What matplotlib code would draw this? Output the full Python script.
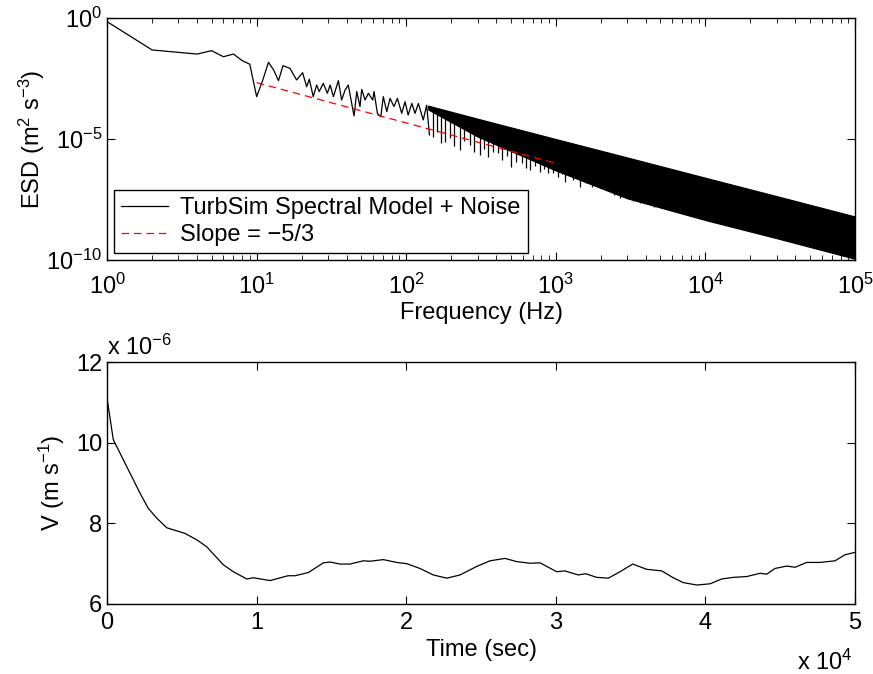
import matplotlib
matplotlib.use('Agg')
import matplotlib.pyplot as plt
from matplotlib.ticker import NullLocator, LogLocator

plt.rcParams['font.family'] = ['Liberation Sans', 'DejaVu Sans']
plt.rcParams['mathtext.fontset'] = 'custom'
plt.rcParams['mathtext.rm'] = 'Liberation Sans'
plt.rcParams['mathtext.it'] = 'Liberation Sans:italic'
plt.rcParams['font.size'] = 17

# spectrum, low-frequency part (Hz, log10 ESD)
low_freq = [1, 2, 3, 4, 5, 6, 7, 8, 9, 10, 11, 12, 13, 14, 15,
            16.7, 18.5, 20.3, 21.6, 22.5, 23.9, 25.2, 26.2, 27.9, 29.7,
            31, 32.6, 35.2, 37, 39, 41, 43.2, 44.8, 46.7, 49.1,
            50.4, 53.1, 55.8, 59.7, 60.9, 64.2, 67.6, 70.3, 74.1, 78,
            82.8, 87.3, 93.3, 98.2, 103, 109, 114.5, 120.5, 130, 137, 143]
low_log = [-0.15, -1.32, -1.42, -1.49, -1.35, -1.60, -1.49, -1.76, -1.91, -3.25,
           -2.56, -1.83, -2.15, -2.59, -1.97,
           -2.08, -2.56, -2.26, -2.84, -2.53, -3.25, -2.77, -3.04, -2.70, -3.11,
           -2.77, -3.25, -2.59, -3.39, -2.98, -2.77, -3.53, -4.05, -3.04, -3.66,
           -2.95, -3.39, -3.11, -3.39, -3.04, -3.94, -4.08, -3.25, -3.87, -3.32,
           -3.66, -3.32, -3.94, -3.46, -4.01, -3.53, -3.94, -3.53, -4.21, -3.60, -4.83]

# dense high-frequency band: upper and lower edges (log10 ESD)
band_freq = [140, 300, 1000, 3000, 10000, 30000, 100000]
band_top = [-3.62, -4.16, -5.00, -5.76, -6.60, -7.36, -8.20]
band_bot = [-3.78, -4.90, -6.30, -7.45, -8.35, -9.10, -9.95]

# downward spikes below the band
spike_freq = [150, 160, 170, 182, 195, 210, 229, 245, 267, 285, 311, 330,
              354, 380, 413, 440, 470, 499, 540, 592, 630, 673, 730, 783,
              840, 891, 960, 1040, 1100, 1153, 1300, 1452, 1600, 1750, 1972,
              2200, 2450, 2685, 3000, 3300, 3656, 4000, 4500, 4977, 5700,
              6592, 7500]
spike_top = [-3.88, -3.93, -3.97, -4.02, -4.06, -4.12, -4.18, -4.22, -4.28,
             -4.33, -4.39, -4.43, -4.48, -4.53, -4.59, -4.63, -4.68, -4.72,
             -4.77, -4.84, -4.88, -4.92, -4.98, -5.03, -5.08, -5.12, -5.17,
             -5.23, -5.27, -5.30, -5.38, -5.46, -5.53, -5.59, -5.67, -5.75,
             -5.82, -5.89, -5.96, -6.03, -6.10, -6.16, -6.25, -6.32, -6.41,
             -6.51, -6.60]
spike_tip = [-4.90, -4.70, -5.18, -5.11, -4.95, -5.30, -5.45, -5.10, -5.25,
             -5.55, -5.66, -5.40, -5.76, -5.55, -5.56, -5.85, -5.70, -6.17,
             -5.95, -6.01, -6.20, -6.28, -6.10, -6.35, -6.25, -6.42, -6.40,
             -6.56, -6.45, -6.76, -6.70, -6.97, -6.80, -7.00, -7.04, -7.10,
             -7.30, -7.45, -7.35, -7.55, -7.66, -7.60, -7.80, -7.80, -7.95,
             -8.00, -8.10]

# -5/3 reference line
slope_freq = [10, 1000]
slope_log = [-2.67, -6.00]

# wind speed time series (time in 1e4 s, V in 1e-6 m/s)
time_s = [0, 0.042, 0.087, 0.131, 0.176, 0.22, 0.276, 0.332, 0.399, 0.521,
          0.6, 0.666, 0.778, 0.844, 0.934, 0.978, 1.09, 1.21, 1.257, 1.346,
          1.446, 1.49, 1.557, 1.624, 1.713, 1.758, 1.847, 1.936, 2.003, 2.092,
          2.181, 2.271, 2.36, 2.471, 2.56, 2.66, 2.739, 2.827, 2.894, 3.006,
          3.06, 3.15, 3.2, 3.273, 3.351, 3.429, 3.514, 3.607, 3.708, 3.785,
          3.852, 3.942, 4.031, 4.109, 4.187, 4.276, 4.365, 4.41, 4.465, 4.543,
          4.6, 4.677, 4.766, 4.866, 4.933, 5.0]
speed = [11.10, 10.07, 9.74, 9.41, 9.08, 8.75, 8.37, 8.13, 7.89, 7.75,
         7.59, 7.42, 6.97, 6.80, 6.62, 6.65, 6.58, 6.70, 6.70, 6.78,
         7.02, 7.04, 6.99, 6.99, 7.07, 7.06, 7.10, 7.03, 7.00, 6.88,
         6.72, 6.64, 6.72, 6.93, 7.07, 7.13, 7.05, 7.01, 7.02, 6.80,
         6.82, 6.72, 6.75, 6.66, 6.64, 6.80, 6.99, 6.86, 6.82, 6.65,
         6.53, 6.47, 6.50, 6.62, 6.66, 6.68, 6.76, 6.74, 6.88, 6.94,
         6.91, 7.03, 7.03, 7.07, 7.22, 7.28]

fig = plt.figure(figsize=(8.73, 6.74), dpi=100)
ax1 = fig.add_axes([0.1226, 0.6142, 0.8568, 0.3591])
ax2 = fig.add_axes([0.1226, 0.1039, 0.8568, 0.3590])

# top: spectrum
p = lambda v: [10.0 ** x for x in v]
ax1.fill_between(band_freq, p(band_bot), p(band_top), color='black', lw=0.8)
ax1.vlines(spike_freq, p(spike_tip), p(spike_top), color='black', lw=0.9)
ax1.plot(low_freq, p(low_log), color='black', lw=0.9,
         label='TurbSim Spectral Model + Noise')
ax1.plot(slope_freq, p(slope_log), color='red', lw=0.9, ls=(0, (6, 4)),
         label='Slope = \u22125/3')
ax1.set_xscale('log')
ax1.set_yscale('log')
ax1.set_xlim(1, 1e5)
ax1.set_ylim(1e-10, 1)
ax1.set_yticks([1e-10, 1e-5, 1])
ax1.yaxis.set_minor_locator(NullLocator())
ax1.xaxis.set_minor_locator(LogLocator(subs=range(2, 10), numticks=20))
ax1.set_xlabel('Frequency (Hz)')
ax1.set_ylabel('ESD (m$^2$ s$^{-3}$)')
ax1.yaxis.set_label_coords(-0.08, 0.5)
ax1.xaxis.set_label_coords(0.5, -0.175)
leg = ax1.legend(loc='lower left', handlelength=2.0, fancybox=False,
                 borderaxespad=0.3, framealpha=1, edgecolor='black',
                 handletextpad=0.5, borderpad=0.3, labelspacing=0.2)
leg.get_frame().set_linewidth(1.0)

# bottom: time series
ax2.plot(time_s, speed, color='black', lw=0.9)
ax2.set_xlim(0, 5)
ax2.set_ylim(6, 12)
ax2.set_xticks([0, 1, 2, 3, 4, 5])
ax2.set_yticks([6, 8, 10, 12])
ax2.set_xlabel('Time (sec)')
ax2.set_ylabel('V (m s$^{-1}$)')
ax2.yaxis.set_label_coords(-0.053, 0.5)
ax2.xaxis.set_label_coords(0.5, -0.145)
ax2.text(0.0, 1.01, 'x 10$^{-6}$', transform=ax2.transAxes, ha='left', va='bottom')
ax2.text(0.997, -0.19, 'x 10$^{4}$', transform=ax2.transAxes, ha='right', va='top')

for ax in (ax1, ax2):
    ax.tick_params(which='both', direction='in', top=True, right=True)
    ax.tick_params(which='major', length=6)
    ax.tick_params(which='minor', length=3.5)
    for s in ax.spines.values():
        s.set_linewidth(1.0)
ax1.tick_params(axis='x', which='major', pad=10)
ax2.tick_params(axis='x', which='major', pad=6)

fig.savefig('out.png', dpi=100)
